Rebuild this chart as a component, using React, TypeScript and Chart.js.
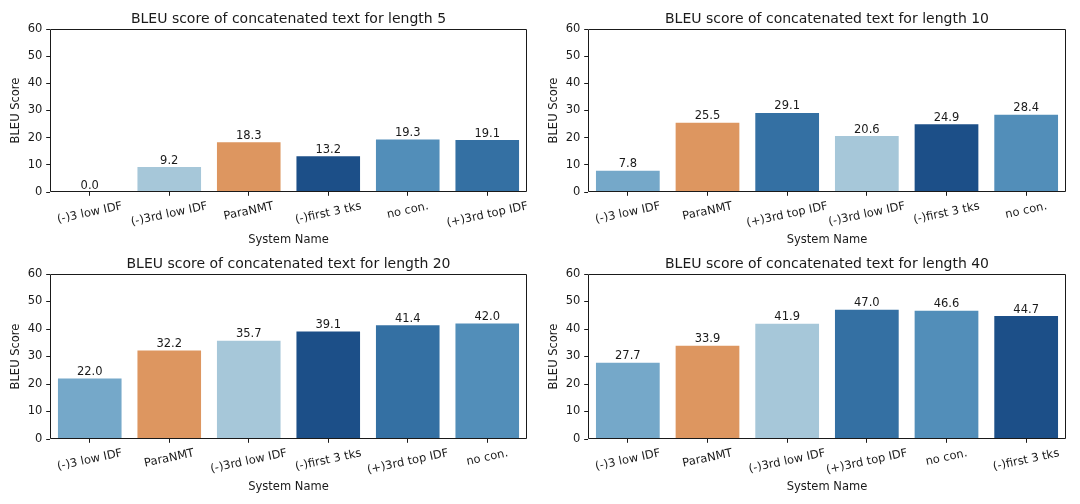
import React, { useEffect, useRef } from "react";
import { Chart, registerables } from "chart.js";

Chart.register(...registerables);

const FONT = '"DejaVu Sans", sans-serif';
const INK = "#1a1a1a";
const TITLE_SIZE = 14;
const TEXT_SIZE = 11.5;

// Scores per system for each concatenation length (bars listed left to right)
const len5Systems = ["(-)3 low IDF", "(-)3rd low IDF", "ParaNMT", "(-)first 3 tks", "no con.", "(+)3rd top IDF"];
const len5Scores = [0.0, 9.2, 18.3, 13.2, 19.3, 19.1];

const len10Systems = ["(-)3 low IDF", "ParaNMT", "(+)3rd top IDF", "(-)3rd low IDF", "(-)first 3 tks", "no con."];
const len10Scores = [7.8, 25.5, 29.1, 20.6, 24.9, 28.4];

const len20Systems = ["(-)3 low IDF", "ParaNMT", "(-)3rd low IDF", "(-)first 3 tks", "(+)3rd top IDF", "no con."];
const len20Scores = [22.0, 32.2, 35.7, 39.1, 41.4, 42.0];

const len40Systems = ["(-)3 low IDF", "ParaNMT", "(-)3rd low IDF", "(+)3rd top IDF", "no con.", "(-)first 3 tks"];
const len40Scores = [27.7, 33.9, 41.9, 47.0, 46.6, 44.7];

const yTickValues = [0, 10, 20, 30, 40, 50, 60];

const systemColors: Record<string, string> = {
  "(-)3 low IDF": "#75a8c9",
  "(-)3rd low IDF": "#a6c7d9",
  "ParaNMT": "#dd9660",
  "(-)first 3 tks": "#1c4f88",
  "no con.": "#528eb9",
  "(+)3rd top IDF": "#3470a3",
};

const xAxisTitle = "System Name";
const yAxisTitle = "BLEU Score";
const titlePrefix = "BLEU score of concatenated text for length ";

const LABEL_ROT = (12 * Math.PI) / 180;

// Spines, title, axis titles, rotated category labels and value annotations
const panelDecor = {
  id: "panelDecor",
  afterDraw(chart: any, _args: any, opts: any) {
    const { ctx, chartArea: a } = chart;
    const xs = chart.scales.x;
    ctx.save();

    // four-sided frame
    ctx.strokeStyle = INK;
    ctx.lineWidth = 1;
    const l = Math.round(a.left) + 0.5;
    const t = Math.round(a.top) + 0.5;
    const r = Math.round(a.right) - 0.5;
    const b = Math.round(a.bottom) - 0.5;
    ctx.beginPath();
    ctx.moveTo(l, t);
    ctx.lineTo(r, t);
    ctx.lineTo(r, b);
    ctx.lineTo(l, b);
    ctx.closePath();
    ctx.stroke();

    ctx.fillStyle = INK;

    // title
    ctx.font = `${TITLE_SIZE}px ${FONT}`;
    ctx.textAlign = "center";
    ctx.textBaseline = "alphabetic";
    ctx.fillText(opts.title, (a.left + a.right) / 2, a.top - 6.5);

    // value labels above bars
    ctx.font = `${TEXT_SIZE}px ${FONT}`;
    const meta = chart.getDatasetMeta(0);
    const vals = chart.data.datasets[0].data as number[];
    meta.data.forEach((bar: any, i: number) => {
      ctx.fillText(vals[i].toFixed(1), bar.x, bar.y - 3.5);
    });

    // rotated category labels
    const labels = chart.data.labels as string[];
    const h = TEXT_SIZE * 1.17;
    labels.forEach((lab, i) => {
      const px = xs.getPixelForValue(i);
      const w = ctx.measureText(lab).width;
      const H = w * Math.sin(LABEL_ROT) + h * Math.cos(LABEL_ROT);
      const cy = a.bottom + 7.6 + H / 2;
      ctx.save();
      ctx.translate(px, cy);
      ctx.rotate(-LABEL_ROT);
      ctx.textAlign = "center";
      ctx.textBaseline = "middle";
      ctx.fillText(lab, 0, 0);
      ctx.restore();
    });

    // axis titles
    ctx.textAlign = "center";
    ctx.textBaseline = "middle";
    ctx.fillText(opts.xTitle, (a.left + a.right) / 2, a.bottom + 48);
    ctx.save();
    ctx.translate(a.left - 34, (a.top + a.bottom) / 2);
    ctx.rotate(-Math.PI / 2);
    ctx.fillText(opts.yTitle, 0, 0);
    ctx.restore();

    ctx.restore();
  },
};

type PanelProps = {
  title: string;
  systems: string[];
  scores: number[];
  x: number;
  y: number;
  w: number;
  h: number;
  padLeft: number;
  padTop: number;
  padRight: number;
  padBottom: number;
};

function Panel(p: PanelProps) {
  const ref = useRef<HTMLCanvasElement | null>(null);

  useEffect(() => {
    if (!ref.current) return;
    const chart = new Chart(ref.current, {
      type: "bar",
      data: {
        labels: p.systems,
        datasets: [
          {
            data: p.scores,
            backgroundColor: p.systems.map((s) => systemColors[s]),
            borderWidth: 0,
            barPercentage: 1,
            categoryPercentage: 0.8,
          },
        ],
      },
      options: {
        responsive: false,
        animation: false,
        devicePixelRatio: 1,
        layout: { padding: { left: 0, top: p.padTop, right: p.padRight, bottom: 0 } },
        plugins: {
          legend: { display: false },
          title: { display: false },
          tooltip: { enabled: false },
          panelDecor: { title: p.title, xTitle: xAxisTitle, yTitle: yAxisTitle },
        } as any,
        scales: {
          x: {
            type: "category",
            offset: true,
            ticks: { display: false },
            grid: {
              offset: false,
              drawOnChartArea: false,
              drawTicks: true,
              tickLength: 3.8,
              color: INK,
              lineWidth: 1,
            },
            border: { display: false },
            afterFit: (s: any) => {
              s.height = p.padBottom;
            },
          },
          y: {
            min: yTickValues[0],
            max: yTickValues[yTickValues.length - 1],
            afterBuildTicks: (s: any) => {
              s.ticks = yTickValues.map((v) => ({ value: v }));
            },
            ticks: {
              color: INK,
              font: { family: FONT, size: TEXT_SIZE },
              padding: 3.8,
              callback: (v: any) => String(v),
            },
            grid: {
              drawOnChartArea: false,
              drawTicks: true,
              tickLength: 3.8,
              color: INK,
              lineWidth: 1,
            },
            border: { display: false },
            afterFit: (s: any) => {
              s.width = p.padLeft;
            },
          },
        },
      },
      plugins: [panelDecor],
    });
    return () => chart.destroy();
  }, []);

  return (
    <canvas
      ref={ref}
      width={p.w}
      height={p.h}
      style={{ position: "absolute", left: p.x, top: p.y, width: p.w, height: p.h, display: "block" }}
    />
  );
}

export default function App() {
  return (
    <div style={{ position: "absolute", left: 0, top: 0, width: 1080, height: 504, background: "#fff", overflow: "hidden" }}>
      <Panel title={titlePrefix + "5"} systems={len5Systems} scores={len5Scores}
        x={0} y={0} w={540} h={252} padLeft={50} padTop={29} padRight={13} padBottom={60} />
      <Panel title={titlePrefix + "10"} systems={len10Systems} scores={len10Scores}
        x={540} y={0} w={540} h={252} padLeft={48} padTop={29} padRight={14} padBottom={60} />
      <Panel title={titlePrefix + "20"} systems={len20Systems} scores={len20Scores}
        x={0} y={252} w={540} h={252} padLeft={50} padTop={22} padRight={13} padBottom={65} />
      <Panel title={titlePrefix + "40"} systems={len40Systems} scores={len40Scores}
        x={540} y={252} w={540} h={252} padLeft={48} padTop={22} padRight={14} padBottom={65} />
    </div>
  );
}
